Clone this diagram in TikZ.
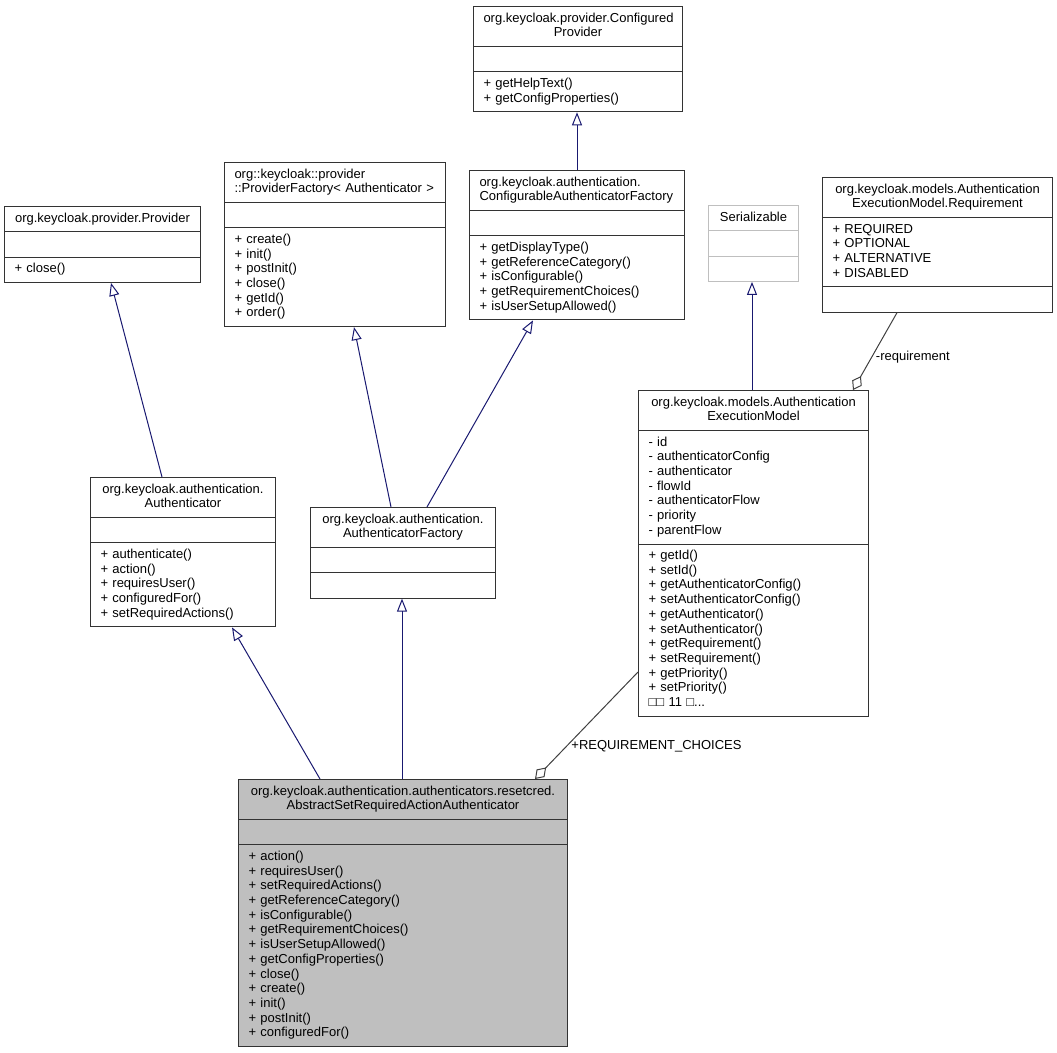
\documentclass[tikz,border=0pt]{standalone}
\usepackage{fontspec}
\setmainfont{Liberation Sans}
\usetikzlibrary{positioning}
\usetikzlibrary{arrows.meta}
\usetikzlibrary{shapes.multipart}
\definecolor{inheritblue}{HTML}{191970}
\definecolor{assocgrey}{HTML}{404040}
\definecolor{classgrey}{HTML}{BFBFBF}
\tikzset{classbox/.style={draw=black!80,line width=1pt,fill=white,rectangle split,rectangle split parts=3,text width=#1,inner xsep=10pt,inner ysep=4.8pt,anchor=north west,font=\fontsize{13}{14.7}\selectfont}}
\tikzset{thisclass/.style={fill=classgrey}}
\tikzset{extclass/.style={draw=classgrey}}
\tikzset{isa/.style={draw=inheritblue,line width=1pt,-{Triangle[open,length=13pt,width=10pt]}}}
\tikzset{has/.style={draw=assocgrey,line width=1pt,-{Diamond[open,length=16pt,width=11pt]}}}
\tikzset{role/.style={font=\fontsize{13}{14.7}\selectfont,anchor=west,inner sep=4pt}}

\begin{document}
\begin{tikzpicture}[x=1pt,y=-1pt]
        \useasboundingbox (0,0) rectangle (1057,1052);
        % top row
        \node[classbox=189] (configured) at (473,6)
            {\centering\strut org.keycloak.provider.Configured\\ Provider\strut\par
             \nodepart{second}\strut
             \nodepart{third}\strut + getHelpText()\\ + getConfigProperties()\strut};
        \node[classbox=201] (factory) at (224,162)
            {\strut org::keycloak::provider\\ ::ProviderFactory< Authenticator >\strut
             \nodepart{second}\strut
             \nodepart{third}\strut + create()\\ + init()\\ + postInit()\\ + close()\\ + getId()\\ + order()\strut};
        \node[classbox=195] (configurable) at (469,170)
            {\strut org.keycloak.authentication.\\ ConfigurableAuthenticatorFactory\strut
             \nodepart{second}\strut
             \nodepart{third}\strut + getDisplayType()\\ + getReferenceCategory()\\ + isConfigurable()\\ + getRequirementChoices()\\ + isUserSetupAllowed()\strut};
        \node[classbox=176] (provider) at (4,206)
            {\centering\strut org.keycloak.provider.Provider\strut\par
             \nodepart{second}\strut
             \nodepart{third}\strut + close()\strut};
        \node[classbox=70,extclass] (serializable) at (708,205)
            {\centering\strut Serializable\strut\par
             \nodepart{second}\strut
             \nodepart{third}\strut};
        \node[classbox=210] (requirement) at (822,177)
            {\centering\strut org.keycloak.models.Authentication\\ ExecutionModel.Requirement\strut\par
             \nodepart{second}\strut + REQUIRED\\ + OPTIONAL\\ + ALTERNATIVE\\ + DISABLED\strut
             \nodepart{third}\strut};
        % middle row
        \node[classbox=210] (execution) at (638,390)
            {\centering\strut org.keycloak.models.Authentication\\ ExecutionModel\strut\par
             \nodepart{second}\strut - id\\ - authenticatorConfig\\ - authenticator\\ - flowId\\ - authenticatorFlow\\ - priority\\ - parentFlow\strut
             \nodepart{third}\strut + getId()\\ + setId()\\ + getAuthenticatorConfig()\\ + setAuthenticatorConfig()\\ + getAuthenticator()\\ + setAuthenticator()\\ + getRequirement()\\ + setRequirement()\\ + getPriority()\\ + setPriority()\\ □□ 11 □...\strut};
        \node[classbox=165] (authenticator) at (90,477)
            {\centering\strut org.keycloak.authentication.\\ Authenticator\strut\par
             \nodepart{second}\strut
             \nodepart{third}\strut + authenticate()\\ + action()\\ + requiresUser()\\ + configuredFor()\\ + setRequiredActions()\strut};
        \node[classbox=165] (authfactory) at (310,507)
            {\centering\strut org.keycloak.authentication.\\ AuthenticatorFactory\strut\par
             \nodepart{second}\strut
             \nodepart{third}\strut};
        % bottom
        \node[classbox=309,thisclass] (abstract) at (238,779)
            {\centering\strut org.keycloak.authentication.authenticators.resetcred.\\ AbstractSetRequiredActionAuthenticator\strut\par
             \nodepart{second}\strut
             \nodepart{third}\strut + action()\\ + requiresUser()\\ + setRequiredActions()\\ + getReferenceCategory()\\ + isConfigurable()\\ + getRequirementChoices()\\ + isUserSetupAllowed()\\ + getConfigProperties()\\ + close()\\ + create()\\ + init()\\ + postInit()\\ + configuredFor()\strut};
        % inheritance
        \path[isa] ([xshift=108pt]configurable.north west) -- ([xshift=104pt]configured.south west);
        \path[isa] ([xshift=72pt]authenticator.north west) -- ([xshift=107pt]provider.south west);
        \path[isa] ([xshift=81pt]authfactory.north west) -- ([xshift=130pt]factory.south west);
        \path[isa] ([xshift=117pt]authfactory.north west) -- ([xshift=64pt]configurable.south west);
        \path[isa] ([xshift=114pt]execution.north west) -- ([xshift=44pt]serializable.south west);
        \path[isa] ([xshift=82pt]abstract.north west) -- ([xshift=142pt]authenticator.south west);
        \path[isa] ([xshift=164pt]abstract.north west) -- ([xshift=92pt]authfactory.south west);
        % associations
        \path[has] ([xshift=75pt]requirement.south west) -- ([xshift=215pt]execution.north west)
            node[role,pos=0.58] {-requirement};
        \path[has] ([yshift=-282pt]execution.north west) -- ([xshift=297pt]abstract.north west)
            node[role,pos=0.69] {+REQUIREMENT\_CHOICES};
\end{tikzpicture}
\end{document}
